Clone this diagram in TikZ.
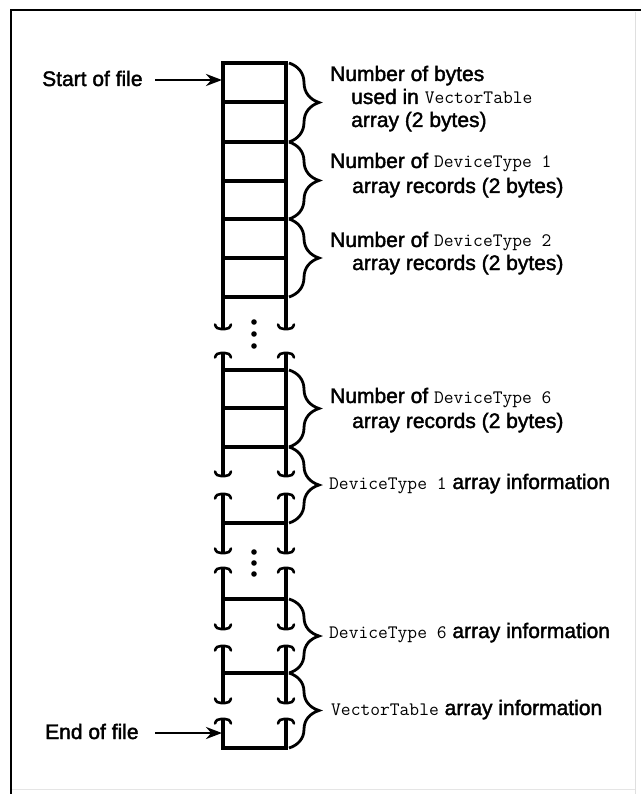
\documentclass[tikz,border=0pt]{standalone}
\usepackage{fontspec}
\setmainfont{Liberation Sans}[FakeBold=1.8]
\usetikzlibrary{decorations.pathreplacing,arrows.meta}
\newcommand\cd[1]{{\ttfamily\fontsize{19}{22}\selectfont #1}}
\begin{document}
\begin{tikzpicture}[x=1pt,y=-1pt,
  col/.style={line width=3.2pt,line cap=round},
  brc/.style={decorate,decoration={brace,amplitude=30pt},line width=2.8pt},
  lbl/.style={anchor=base west,inner sep=0pt,font=\fontsize{21}{25}\selectfont},
  arr/.style={line width=2.6pt,-{Stealth[length=16pt,width=12pt]}},
  brkb/.pic={\draw[line width=2.6pt,line cap=round] (-8,-3.5) .. controls (-7,0) and (-5,1) .. (-2,1) -- (2,1) .. controls (5,1) and (7,0) .. (8,-3.5);},
  brkt/.pic={\draw[line width=2.6pt,line cap=round] (-8,3.5) .. controls (-7,0) and (-5,-1) .. (-2,-1) -- (2,-1) .. controls (5,-1) and (7,0) .. (8,3.5);}
]
\useasboundingbox (0,0) rectangle (641,794);
\fill[white] (0,0) rectangle (641,794);
% frame
\draw[line width=2.6pt] (11,794) -- (11,10) -- (641,10);
\draw[gray!25,line width=1pt] (635,12) -- (635,794);
\draw[gray!20,line width=1pt] (12,789) -- (635,789);

\def\xl{223}\def\xr{286}
% segment A
\draw[col] (\xl,328) -- (\xl,63) -- (\xr,63) -- (\xr,328);
\foreach \y in {102,142,181,219,258,297} \draw[col] (\xl,\y) -- (\xr,\y);
\pic at (\xl,328) {brkb}; \pic at (\xr,328) {brkb};
% segment B
\draw[col] (\xl,354) -- (\xl,475); \draw[col] (\xr,354) -- (\xr,475);
\foreach \y in {370,408,447} \draw[col] (\xl,\y) -- (\xr,\y);
\pic at (\xl,354) {brkt}; \pic at (\xr,354) {brkt};
\pic at (\xl,475) {brkb}; \pic at (\xr,475) {brkb};
% segment C
\draw[col] (\xl,495) -- (\xl,552); \draw[col] (\xr,495) -- (\xr,552);
\draw[col] (\xl,523) -- (\xr,523);
\pic at (\xl,495) {brkt}; \pic at (\xr,495) {brkt};
\pic at (\xl,552) {brkb}; \pic at (\xr,552) {brkb};
% segment D
\draw[col] (\xl,569) -- (\xl,628); \draw[col] (\xr,569) -- (\xr,628);
\draw[col] (\xl,599) -- (\xr,599);
\pic at (\xl,569) {brkt}; \pic at (\xr,569) {brkt};
\pic at (\xl,628) {brkb}; \pic at (\xr,628) {brkb};
% segment E
\draw[col] (\xl,647) -- (\xl,702); \draw[col] (\xr,647) -- (\xr,702);
\draw[col] (\xl,673) -- (\xr,673);
\pic at (\xl,647) {brkt}; \pic at (\xr,647) {brkt};
\pic at (\xl,702) {brkb}; \pic at (\xr,702) {brkb};
% segment F
\draw[col] (\xl,720) -- (\xl,748) -- (\xr,748) -- (\xr,720);
\pic at (\xl,720) {brkt}; \pic at (\xr,720) {brkt};

% dots
\foreach \y in {322,334,346,552,563,574} \fill (254,\y) circle (2.8);

% braces
\foreach \a/\b in {63/142,142/219,219/297,370/447,447/523,599/673,673/748}
  \draw[brc] (289,\a) -- (289,\b);

% start / end arrows
\node[lbl] (start) at (42,86) {Start of file};
\node[lbl] (end) at (45,739) {End of file};
\coordinate (sa) at (155,80);
\coordinate (sb) at (222,80);
\coordinate (ea) at (155,733);
\coordinate (eb) at (222,733);
\draw[arr] (sa) -- (sb);
\draw[arr] (ea) -- (eb);

% labels
\node[lbl] (l1) at (330,81) {Number of bytes};
\node[lbl] (l2) at (351,104) {used in \cd{VectorTable}};
\node[lbl] (l3) at (351,127) {array (2 bytes)};
\node[lbl] (l4) at (330,168) {Number of \cd{DeviceType 1}};
\node[lbl] (l5) at (352,193) {array records (2 bytes)};
\node[lbl] (l6) at (330,247) {Number of \cd{DeviceType 2}};
\node[lbl] (l7) at (352,270) {array records (2 bytes)};
\node[lbl] (l8) at (330,403) {Number of \cd{DeviceType 6}};
\node[lbl] (l9) at (352,428) {array records (2 bytes)};
\node[lbl] (l10) at (329,489) {\cd{DeviceType 1} array information};
\node[lbl] (l11) at (329,638) {\cd{DeviceType 6} array information};
\node[lbl] (l12) at (331,715) {\cd{VectorTable} array information};
\end{tikzpicture}
\end{document}
